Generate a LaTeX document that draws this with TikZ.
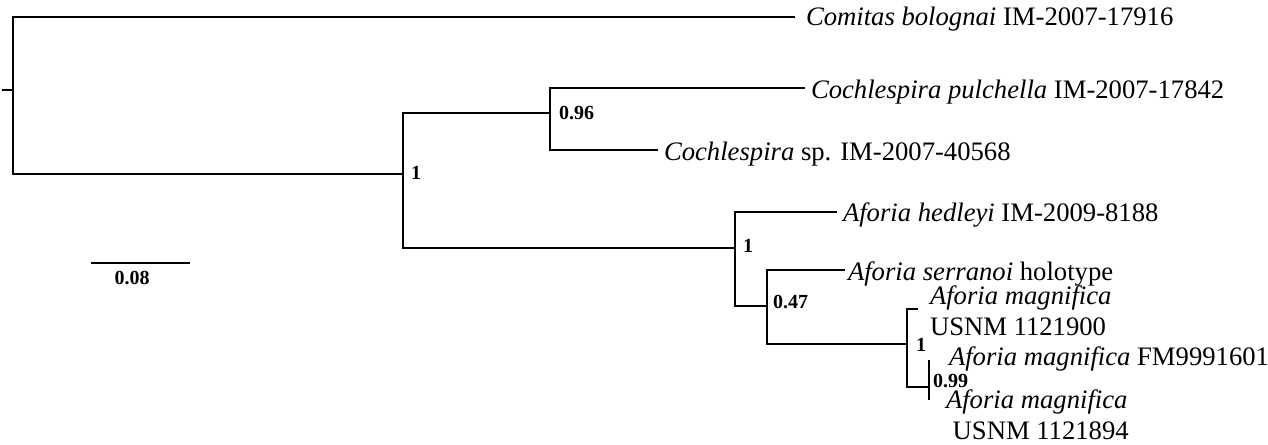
\documentclass[tikz,border=0pt]{standalone}
\usepackage{fontspec}
\setmainfont{Liberation Serif}
\tikzset{every picture/.style={line width=1.5pt}}
\tikzset{
  taxon/.style={anchor=base west, inner sep=0pt, font=\fontsize{20}{24}\selectfont, align=left},
  support/.style={anchor=west, inner sep=0pt, font=\fontsize{15}{18}\selectfont\bfseries},
}
\begin{document}
\begin{tikzpicture}[x=0.75pt,y=0.75pt,yscale=-1,xscale=1]
\useasboundingbox (0,0) rectangle (1268,445);

%Tree nodes
\coordinate (stem) at (2,90);
\coordinate (root) at (13,90);
\coordinate (tComitas) at (795,17);
\coordinate (nAll) at (403,174);
\coordinate (nCoch) at (550,113);
\coordinate (tPul) at (805,88);
\coordinate (tCsp) at (658,150);
\coordinate (nAfo) at (735,248);
\coordinate (tHed) at (837,212);
\coordinate (nSer) at (767,306);
\coordinate (tSer) at (845,270);
\coordinate (nMag) at (907,344);
\coordinate (tMagA) at (918,309);
\coordinate (nMagB) at (929,387);
\coordinate (tMagB) at (929,360);
\coordinate (tMagC) at (929,400);

%Branches
\draw (stem) -- (root);
\draw (root) |- (tComitas);
\draw (root) |- (nAll);
\draw (nAll) |- (nCoch);
\draw (nCoch) |- (tPul);
\draw (nCoch) |- (tCsp);
\draw (nAll) |- (nAfo);
\draw (nAfo) |- (tHed);
\draw (nAfo) |- (nSer);
\draw (nSer) |- (tSer);
\draw (nSer) |- (nMag);
\draw (nMag) |- (tMagA);
\draw (nMag) |- (nMagB);
\draw (nMagB) |- (tMagB);
\draw (nMagB) |- (tMagC);

%Scale bar
\coordinate (sbL) at (91,263);
\coordinate (sbR) at (190,263);
\draw (sbL) -- (sbR);
\draw (132,278) node [support, anchor=center] (sbText) {0.08};

% Text Node
\draw (805,26) node [taxon] (lComitas) {\textit{Comitas bolognai} IM-2007-17916};
% Text Node
\draw (810,99) node [taxon] (lPul) {\textit{Cochlespira pulchella} IM-2007-17842};
% Text Node
\draw (663,161) node [taxon] (lCsp) {\textit{Cochlespira} sp. IM-2007-40568};
% Text Node
\draw (842,222) node [taxon] (lHed) {\textit{Aforia hedleyi} IM-2009-8188};
% Text Node
\draw (847,281) node [taxon] (lSer) {\textit{Aforia serranoi} holotype};
% Text Node
\draw (929,336) node [taxon] (lMagA) {\textit{Aforia magnifica}\\USNM 1121900};
% Text Node
\draw (948,366) node [taxon] (lMagB) {\textit{Aforia magnifica} FM9991601};
% Text Node
\draw (945,440) node [taxon] (lMagC) {\textit{Aforia magnifica}\\\hspace*{5pt}USNM 1121894};

% Support values
\draw (410,173) node [support] (sAll) {1};
\draw (558,113) node [support] (sCoch) {0.96};
\draw (742,246) node [support] (sAfo) {1};
\draw (772,302) node [support] (sSer) {0.47};
\draw (915,345) node [support] (sMag) {1};
\draw (932,381) node [support] (sMagB) {0.99};

\end{tikzpicture}
\end{document}
